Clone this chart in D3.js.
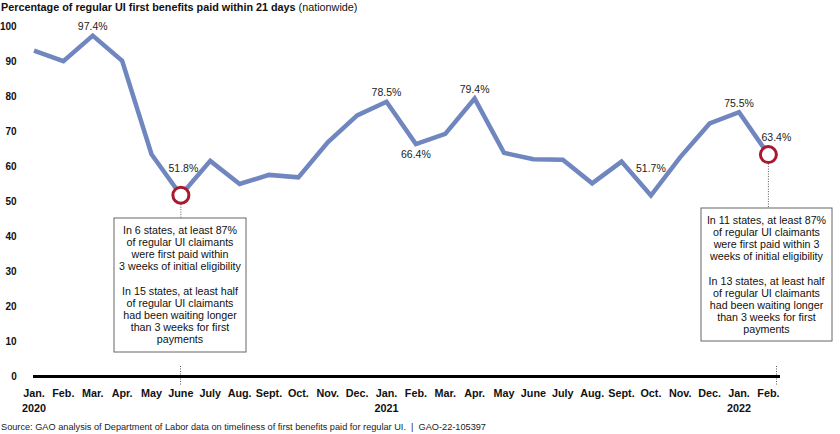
<!DOCTYPE html>
<html>
<head>
<meta charset="utf-8">
<script src="https://cdn.jsdelivr.net/npm/d3@7"></script>
<style>
  body { margin: 0; background: #fff; }
  svg { font-family: Arial, 'Liberation Sans', sans-serif; }
</style>
</head>
<body>
<script>
var months = ['Jan.', 'Feb.', 'Mar.', 'Apr.', 'May', 'June', 'July', 'Aug.', 'Sept.', 'Oct.', 'Nov.', 'Dec.',
              'Jan.', 'Feb.', 'Mar.', 'Apr.', 'May', 'June', 'July', 'Aug.', 'Sept.', 'Oct.', 'Nov.', 'Dec.',
              'Jan.', 'Feb.'];
var years = ['2020', '', '', '', '', '', '', '', '', '', '', '',
             '2021', '', '', '', '', '', '', '', '', '', '', '',
             '2022', ''];
var values = [93.1, 90.1, 97.4, 90.2, 63.5, 51.8, 61.6, 55.0, 57.6, 56.9, 66.9, 74.6,
              78.5, 66.4, 69.3, 79.4, 63.9, 62.1, 61.9, 55.2, 61.4, 51.7, 62.7, 72.3,
              75.5, 63.4];
var yTicks = [0, 10, 20, 30, 40, 50, 60, 70, 80, 90, 100];

// labelled points: index, placement
var labels = [
  { i: 2, pos: 'above' },
  { i: 5, pos: 'circle' },
  { i: 12, pos: 'above' },
  { i: 13, pos: 'below' },
  { i: 15, pos: 'above' },
  { i: 21, pos: 'high' },
  { i: 24, pos: 'above' },
  { i: 25, pos: 'circleRight' }
];
var highlights = [5, 25];

var notes = [
  { i: 5, cx: 180, top: 218, bottom: 352, width: 132,
    lines: ['In 6 states, at least 87%', 'of regular UI claimants', 'were first paid within', '3 weeks of initial eligibility', '',
            'In 15 states, at least half', 'of regular UI claimants', 'had been waiting longer', 'than 3 weeks for first', 'payments'],
    tick: 180.5 },
  { i: 25, cx: 766.5, top: 208, bottom: 341, width: 131,
    lines: ['In 11 states, at least 87%', 'of regular UI claimants', 'were first paid within 3', 'weeks of initial eligibility', '',
            'In 13 states, at least half', 'of regular UI claimants', 'had been waiting longer', 'than 3 weeks for first', 'payments'],
    tick: 776.5 }
];

var W = 840, H = 434;
var svg = d3.select('body').append('svg')
    .attr('width', W)
    .attr('height', H);

var x = d3.scaleLinear().domain([0, months.length - 1]).range([34, 768.4]);
var y = d3.scaleLinear().domain([0, 100]).range([376.5, 26.5]);

// title
var title = svg.append('text')
    .attr('x', 1)
    .attr('y', 10.6)
    .style('font-size', '10.8px')
    .attr('fill', '#111');
title.append('tspan').style('font-weight', 'bold').text('Percentage of regular UI first benefits paid within 21 days');
title.append('tspan').text(' (nationwide)');

// y tick labels
svg.append('g').selectAll('text')
    .data(yTicks)
    .enter()
    .append('text')
    .attr('x', 16.7)
    .attr('y', function(d) { return y(d); })
    .attr('dy', '0.36em')
    .attr('text-anchor', 'end')
    .style('font-size', '10px')
    .style('font-weight', 'bold')
    .attr('fill', '#111')
    .text(function(d) { return d; });

// x labels
var xl = svg.append('g');
xl.selectAll('text.month')
    .data(months)
    .enter()
    .append('text')
    .attr('class', 'month')
    .attr('x', function(d, i) { return x(i); })
    .attr('y', 397)
    .attr('text-anchor', 'middle')
    .style('font-size', '10.8px')
    .style('font-weight', 'bold')
    .attr('fill', '#111')
    .text(function(d) { return d; });
xl.selectAll('text.year')
    .data(years)
    .enter()
    .append('text')
    .attr('class', 'year')
    .attr('x', function(d, i) { return x(i); })
    .attr('y', 412)
    .attr('text-anchor', 'middle')
    .style('font-size', '10.8px')
    .style('font-weight', 'bold')
    .attr('fill', '#111')
    .text(function(d) { return d; });

// notes: boxes and dotted leaders
notes.forEach(function(n) {
  var g = svg.append('g');
  g.append('line')
      .attr('x1', x(n.i)).attr('x2', x(n.i))
      .attr('y1', y(values[n.i]) + 9).attr('y2', n.top)
      .attr('stroke', '#555').attr('stroke-width', 1).attr('stroke-dasharray', '1,1.5');
  g.append('line')
      .attr('x1', n.tick).attr('x2', n.tick)
      .attr('y1', 366).attr('y2', 386)
      .attr('stroke', '#555').attr('stroke-width', 1).attr('stroke-dasharray', '1,1.5');
  g.append('rect')
      .attr('x', n.cx - n.width / 2)
      .attr('y', n.top)
      .attr('width', n.width)
      .attr('height', n.bottom - n.top)
      .attr('fill', '#fff')
      .attr('stroke', '#666')
      .attr('stroke-width', 1);
  g.selectAll('text')
      .data(n.lines)
      .enter()
      .append('text')
      .attr('x', n.cx)
      .attr('y', function(d, k) { return n.top + 16 + k * 12.1; })
      .attr('text-anchor', 'middle')
      .style('font-size', '10.7px')
      .attr('fill', '#111')
      .text(function(d) { return d; });
});

// axis baseline
svg.append('line')
    .attr('x1', 33).attr('x2', 780)
    .attr('y1', y(0)).attr('y2', y(0))
    .attr('stroke', '#000')
    .attr('stroke-width', 3);

// data line
var line = d3.line()
    .x(function(d, i) { return x(i); })
    .y(function(d) { return y(d); });
svg.append('path')
    .datum(values)
    .attr('d', line)
    .attr('fill', 'none')
    .attr('stroke', '#7086bf')
    .attr('stroke-width', 4.5)
    .attr('stroke-linejoin', 'miter');

// highlighted points
svg.append('g').selectAll('circle')
    .data(highlights)
    .enter()
    .append('circle')
    .attr('cx', function(d) { return x(d); })
    .attr('cy', function(d) { return y(values[d]); })
    .attr('r', 8)
    .attr('fill', '#fff')
    .attr('stroke', '#a8182f')
    .attr('stroke-width', 3);

// value labels
var offsets = {
  above: [0, -9],
  below: [0, 10],
  high: [0, -27],
  circle: [2.5, -27],
  circleRight: [8, -17]
};
svg.append('g').selectAll('text')
    .data(labels)
    .enter()
    .append('text')
    .attr('x', function(d) { return x(d.i) + offsets[d.pos][0]; })
    .attr('y', function(d) { return y(values[d.i]) + offsets[d.pos][1]; })
    .attr('dy', '0.35em')
    .attr('text-anchor', 'middle')
    .style('font-size', '10.5px')
    .attr('fill', '#222')
    .text(function(d) { return values[d.i].toFixed(1) + '%'; });

// source
svg.append('text')
    .attr('x', 1)
    .attr('y', 430.3)
    .style('font-size', '9.2px')
    .style('white-space', 'pre')
    .attr('fill', '#222')
    .text('Source: GAO analysis of Department of Labor data on timeliness of first benefits paid for regular UI.  |  GAO-22-105397');
</script>
</body>
</html>
